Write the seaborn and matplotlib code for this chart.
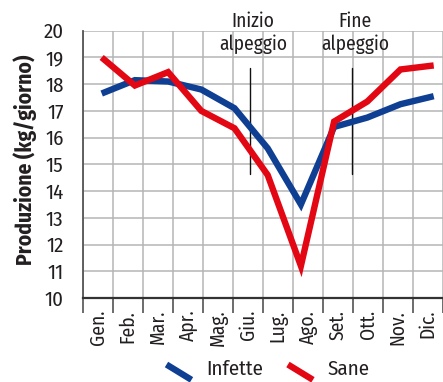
import matplotlib
matplotlib.use("Agg")
import matplotlib.pyplot as plt
from matplotlib.lines import Line2D
from matplotlib.legend_handler import HandlerLine2D
import seaborn as sns
import numpy as np
import pandas as pd

# ---- data ----
months = ["Gen.", "Feb.", "Mar.", "Apr.", "Mag.", "Giu.", "Lug.", "Ago.", "Set.", "Ott.", "Nov.", "Dic."]
infette = [17.65, 18.15, 18.1, 17.8, 17.1, 15.6, 13.5, 16.4, 16.75, 17.25, 17.55]
sane = [19.0, 17.95, 18.45, 17.0, 16.35, 14.6, 11.2, 16.6, 17.35, 18.55, 18.7]
series_names = ["Infette", "Sane"]
colors = {"Infette": "#0E3F93", "Sane": "#E30613"}
yticks = list(range(10, 21))
annotations = ["Inizio\nalpeggio", "Fine\nalpeggio"]

sns.set_theme(style="white")
plt.rcParams["font.family"] = ["Fira Sans Condensed", "DejaVu Sans"]
TXT = "#231F20"

df = pd.DataFrame({
    "idx": list(range(len(infette))) * 2,
    "val": infette + sane,
    "serie": ["Infette"] * len(infette) + ["Sane"] * len(sane),
})

fig = plt.figure(figsize=(4.43, 3.82), dpi=100)
ax = fig.add_axes([83 / 443, (382 - 298) / 382, (443 - 83) / 443, (298 - 30.7) / 382])

# month grid axis
ax.set_xlim(0, 360 / 30.6)
ax.set_ylim(10, 20)
ax.set_xticks(np.arange(0, 13))
ax.set_xticklabels([])
ax.set_xticks(np.arange(len(months)) + 0.5, minor=True)
ax.set_xticklabels(months, minor=True, rotation=90, fontsize=14, color=TXT)
ax.set_yticks(yticks)
ax.set_yticklabels([str(t) for t in yticks], fontsize=15, color=TXT)
ax.grid(True, which="major", color="#B5B5B5", lw=1.1)
ax.set_axisbelow(True)
ax.tick_params(axis="x", which="major", direction="out", length=11, width=1.1, color="#444444")
ax.tick_params(axis="x", which="minor", length=0, pad=8.5)
ax.tick_params(axis="y", direction="out", length=10.5, width=1.1, color="#444444", pad=3.5)
for s in ["top", "right"]:
    ax.spines[s].set_visible(False)
ax.spines["left"].set_color("#555555")
ax.spines["left"].set_linewidth(1.3)
ax.spines["bottom"].set_color("#333333")
ax.spines["bottom"].set_linewidth(1.6)
ax.set_ylabel("Produzione (kg/giorno)", fontsize=15.5, fontweight="bold", color=TXT)
ax.yaxis.set_label_coords(-0.127, 0.516)

# data axis (measurements evenly spaced)
ax2 = ax.twiny()
ax2.set_xlim(-0.563, 10.28)
sns.lineplot(data=df, x="idx", y="val", hue="serie", palette=colors, ax=ax2,
             lw=4.6, legend=False, sort=False)
for ln in ax2.lines:
    ln.set_solid_joinstyle("miter")
    ln.set_solid_capstyle("butt")
ax2.set_ylim(10, 20)
ax2.set_xticks([])
ax2.set_xlabel("")
ax2.set_ylabel("")
for s in ax2.spines.values():
    s.set_visible(False)

# alpeggio markers
for xpos, tx, label in zip([5.565, 8.96], [5.66, 9.07], annotations):
    ax.plot([xpos, xpos], [14.64, 18.6], color="#111111", lw=1.0)
    first, second = label.split("\n")
    ax.text(tx, 20.12, first, ha="center", va="baseline", fontsize=14, color=TXT, clip_on=False)
    ax.text(tx, 19.27, second, ha="center", va="baseline", fontsize=14, color=TXT, clip_on=False)

# legend with diagonal handles
class DiagHandler(HandlerLine2D):
    def create_artists(self, legend, orig_handle, xdescent, ydescent, width, height, fontsize, trans):
        l = Line2D([-xdescent, -xdescent + width], [height * 0.7, -height * 0.35],
                   color=orig_handle.get_color(), lw=orig_handle.get_linewidth(),
                   solid_capstyle="butt")
        l.set_transform(trans)
        return [l]

handles = [Line2D([], [], color=colors[n], lw=4.6) for n in series_names]
leg = fig.legend(handles, series_names, loc="center", ncol=2,
                 bbox_to_anchor=(268 / 443, 1 - 369 / 382), frameon=False,
                 fontsize=15, handlelength=1.2, handletextpad=0.7, columnspacing=1.2,
                 handler_map={Line2D: DiagHandler()})
for t in leg.get_texts():
    t.set_color(TXT)

fig.savefig("out.png", dpi=100)
